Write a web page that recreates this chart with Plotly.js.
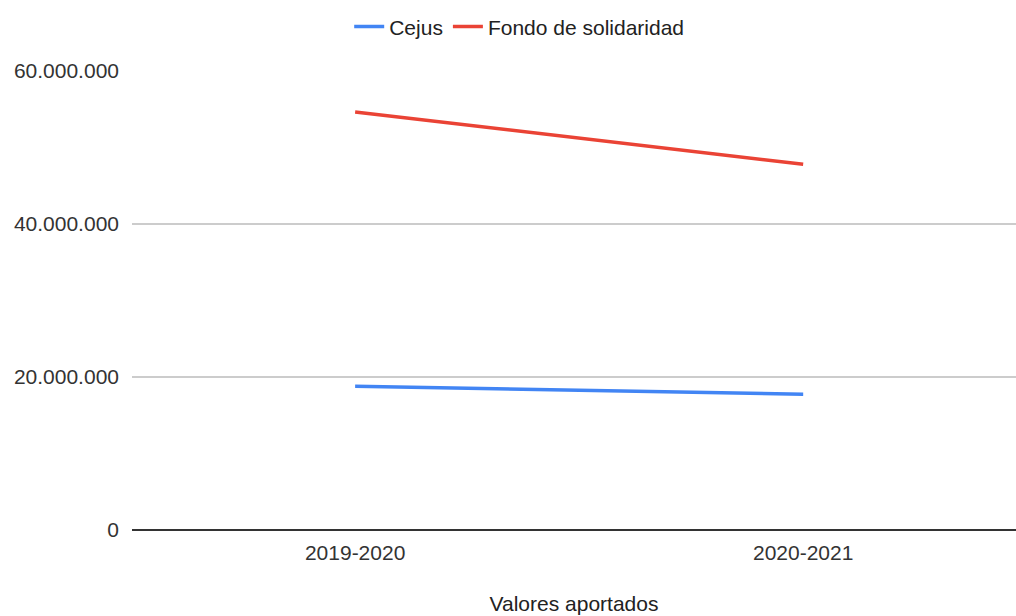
<!DOCTYPE html>
<html><head><meta charset="utf-8">
<script src="https://cdn.plot.ly/plotly-3.0.1.min.js"></script>
<style>html,body{margin:0;padding:0;background:#fff}#c{width:1016px;height:616px}</style>
</head><body><div id="c"></div>
<script>
const categories = ["2019-2020", "2020-2021"];
const cejus = [18800000, 17750000];
const fondo = [54650000, 47800000];
const seriesNames = ["Cejus", "Fondo de solidaridad"];
const yTicks = [0, 20000000, 40000000, 60000000];
const xTitle = "Valores aportados";

const fam = "Arial, 'Liberation Sans', sans-serif";
const traces = [
  {x: categories, y: cejus, name: seriesNames[0], type: "scatter", mode: "lines",
   line: {color: "#4285F4", width: 3.5}},
  {x: categories, y: fondo, name: seriesNames[1], type: "scatter", mode: "lines",
   line: {color: "#EA4335", width: 3.5}}
];
const layout = {
  width: 1016, height: 616,
  margin: {l: 132, r: 0, t: 71, b: 86},
  paper_bgcolor: "#fff", plot_bgcolor: "#fff",
  separators: ",.",
  font: {family: fam, size: 21, color: "#333"},
  showlegend: true,
  legend: {orientation: "h", x: 0.438, xanchor: "center", y: 1.096, yanchor: "middle",
           font: {family: fam, size: 21, color: "#222"}, itemwidth: 30},
  xaxis: {type: "category", range: [-0.498, 1.475], showgrid: false, zeroline: false,
          showline: false, ticks: "", ticklabelstandoff: 8,
          tickfont: {family: fam, size: 21, color: "#333"},
          title: {text: xTitle, standoff: 33, font: {family: fam, size: 21, color: "#222"}}},
  yaxis: {range: [0, 60000000], tickvals: yTicks, tickformat: ",d",
          showgrid: true, gridcolor: "#cccccc", gridwidth: 1.5,
          zeroline: true, zerolinecolor: "#333", zerolinewidth: 1.5,
          showline: false, ticks: "", ticklabelstandoff: 12,
          tickfont: {family: fam, size: 21, color: "#333"}}
};
Plotly.newPlot("c", traces, layout, {displayModeBar: false, staticPlot: true});
</script></body></html>
